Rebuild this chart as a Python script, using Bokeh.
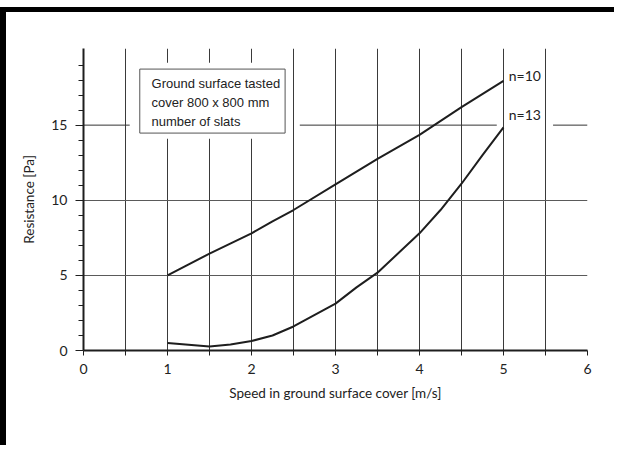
from bokeh.plotting import figure
from bokeh.models import FixedTicker, Range1d, Label
from bokeh.embed import file_html
from bokeh.resources import INLINE

# ---- data ----
speed_n10 = [1.0, 1.5, 2.0, 2.25, 2.5, 3.0, 3.5, 4.0, 4.5, 5.0]
res_n10 = [5.0, 6.45, 7.8, 8.6, 9.35, 11.05, 12.75, 14.35, 16.2, 17.95]

speed_n13 = [1.0, 1.5, 1.75, 2.0, 2.25, 2.5, 3.0, 3.25, 3.5, 4.0, 4.25, 4.5, 4.75, 5.0]
res_n13 = [0.5, 0.27, 0.4, 0.63, 1.0, 1.6, 3.12, 4.2, 5.18, 7.8, 9.35, 11.1, 13.0, 14.85]

series_names = ["n=10", "n=13"]
x_tick_values = [0, 1, 2, 3, 4, 5, 6]
x_minor_values = [0.5, 1.5, 2.5, 3.5, 4.5, 5.5]
y_tick_values = [0, 5, 10, 15]
y_minor_values = [1, 2, 3, 4, 6, 7, 8, 9, 11, 12, 13, 14, 16, 17, 18, 19]
vgrid_values = [0.5, 1, 1.5, 2, 2.5, 3, 3.5, 4, 4.5, 5, 5.5, 6]
hgrid_values = [5, 10]
box_lines = ["Ground surface tasted", "cover 800 x 800 mm", "number of slats"]
x_title = "Speed in ground surface cover [m/s]"
y_title = "Resistance [Pa]"

INK = "#1e1e1e"

p = figure(width=614, height=438, output_backend="svg", toolbar_location=None,
           x_range=Range1d(0, 6), y_range=Range1d(0, 20.1),
           min_border_left=77, min_border_right=33, min_border_top=36, min_border_bottom=100)
p.styles = {"margin-left": "0px", "margin-top": "7px",
            "border-top": "5px solid black", "border-left": "6px solid black"}
p.outline_line_color = None
p.background_fill_color = "white"
p.border_fill_color = "white"

# grid
p.xgrid.ticker = FixedTicker(ticks=vgrid_values)
p.xgrid.grid_line_color = "#3a3a3a"
p.xgrid.grid_line_width = 1
p.ygrid.ticker = FixedTicker(ticks=hgrid_values)
p.ygrid.grid_line_color = "#5a5a5a"
p.ygrid.grid_line_width = 1

# axes
for ax in (p.xaxis[0], p.yaxis[0]):
    ax.axis_line_color = INK
    ax.axis_line_width = 2
    ax.major_tick_line_color = INK
    ax.minor_tick_line_color = INK
    ax.major_tick_in = 0
    ax.minor_tick_in = 0
    ax.major_label_text_font = "Lato"
    ax.major_label_text_font_size = "14px"
    ax.major_label_text_color = "#222222"
    ax.axis_label_text_font = "Lato"
    ax.axis_label_text_font_size = "13.5px"
    ax.axis_label_text_font_style = "normal"
    ax.axis_label_text_color = "#222222"

p.xaxis.ticker = FixedTicker(ticks=x_tick_values, minor_ticks=x_minor_values)
p.xaxis.major_tick_out = 5
p.xaxis.minor_tick_out = 5
p.xaxis.major_label_standoff = 8
p.xaxis.axis_label = x_title
p.xaxis.axis_label_standoff = 8

p.yaxis.ticker = FixedTicker(ticks=y_tick_values, minor_ticks=y_minor_values)
p.yaxis.major_tick_out = 8
p.yaxis.minor_tick_out = 5
p.yaxis.major_label_standoff = 8
p.yaxis.axis_label = y_title
p.yaxis.axis_label_standoff = 11

# white mask behind the note box (hides the vertical grid lines there)
p.quad(left=0.6, right=2.45, bottom=14.09, top=19.15, fill_color="white", line_color=None)

# the y = 15 reference line, broken around the note box and the n=13 label
p.segment(x0=[0, 2.575, 5.59], x1=[0.55, 4.92, 6], y0=[15, 15, 15], y1=[15, 15, 15],
          line_color="#333333", line_width=1)

# note box
p.quad(left=0.67, right=2.40, bottom=14.47, top=18.73, fill_color="white",
       line_color="#555555", line_width=1)
for txt, yy in zip(box_lines, [17.8, 16.53, 15.27]):
    p.add_layout(Label(x=0.81, y=yy, text=txt, text_font="Liberation Sans",
                       text_font_size="13px", text_color="#222222", text_baseline="middle"))

# curves
p.line(speed_n10, res_n10, line_width=2, line_color=INK, line_join="round")
p.line(speed_n13, res_n13, line_width=2, line_color=INK, line_join="round")

for name, yy in zip(series_names, [18.27, 15.73]):
    p.add_layout(Label(x=5.063, y=yy, text=name, text_font="Lato", text_font_size="14px",
                       text_color="#222222", text_baseline="middle"))

open("out.html", "w").write(file_html(p, INLINE))
